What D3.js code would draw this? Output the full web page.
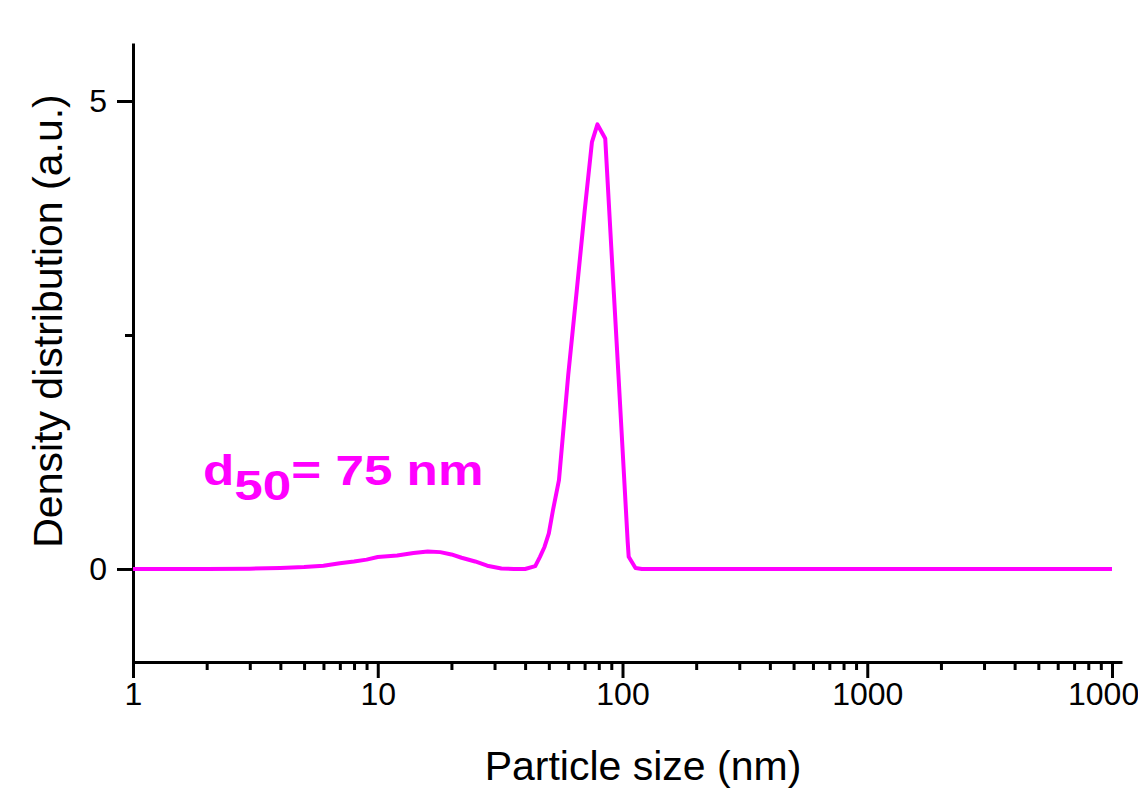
<!DOCTYPE html>
<html>
<head>
<meta charset="utf-8">
<script src="https://cdn.jsdelivr.net/npm/d3@7"></script>
<style>
  body { margin: 0; background: #fff; }
  svg { display: block; }
</style>
</head>
<body>
<div id="chart"></div>
<script>
// particle size distribution
const sizes = [1, 2, 3, 4, 5, 6, 7, 8, 9, 10, 12, 14, 16, 18, 20, 22, 25, 28, 32, 36, 40,
  44, 46, 48, 50, 52, 55, 60, 65, 70, 75, 79, 85, 90, 95, 100, 105, 106, 113, 120,
  200, 500, 1000, 2000, 5000, 10000];
const density = [0, 0, 0.003, 0.01, 0.02, 0.035, 0.062, 0.08, 0.1, 0.128, 0.145, 0.17, 0.187, 0.18, 0.155, 0.12, 0.08, 0.035, 0.005, 0, 0,
  0.03, 0.13, 0.235, 0.38, 0.63, 0.95, 2.07, 2.97, 3.82, 4.56, 4.75, 4.6, 3.43, 2.34, 1.29, 0.29, 0.13, 0.01, 0,
  0, 0, 0, 0, 0, 0];

const xMajor = [1, 10, 100, 1000, 10000];
const xMinor = [1, 10, 100, 1000].flatMap(d => d3.range(2, 10).map(k => k * d));
const yMajor = [0, 5];
const yMinor = [2.5];

const width = 1138; // the original crops the last tick label
const height = 789;
const margin = { top: 43, right: 16, bottom: 127, left: 133 };
const color = '#ff00ff';
const font = 'Arial, "Liberation Sans", sans-serif';
const majorTick = 16;
const minorTick = 8;
const tickFont = 32;

const svg = d3.select('#chart')
  .append('svg')
  .attr('width', width)
  .attr('height', height)
  .style('font-family', font);

// axis line runs a little past 10000, like the original
const x = d3.scaleLog()
  .domain([1, Math.pow(10, 4 + 10 / 245)])
  .range([margin.left, width - margin.right]);
const y = d3.scaleLinear()
  .domain([-0.994, 5.62])
  .range([height - margin.bottom, margin.top]);

const axisStyle = g => {
  g.attr('font-size', tickFont).attr('font-family', font);
  g.select('.domain').attr('stroke-width', 3).attr('stroke', '#000');
  g.selectAll('.tick line').attr('stroke-width', 3).attr('stroke', '#000');
  g.selectAll('.tick text').attr('fill', '#000');
};

// x axis: majors with labels, minors without
svg.append('g')
  .attr('transform', `translate(0, ${y.range()[0]})`)
  .call(d3.axisBottom(x).tickValues(xMinor).tickSize(minorTick).tickSizeOuter(0).tickFormat(''))
  .call(axisStyle);
svg.append('g')
  .attr('transform', `translate(0, ${y.range()[0]})`)
  .call(d3.axisBottom(x).tickValues(xMajor).tickSize(majorTick).tickSizeOuter(0)
    .tickFormat(d3.format('d')).tickPadding(4))
  .call(axisStyle)
  .call(g => g.select('.domain').remove());

// y axis
svg.append('g')
  .attr('transform', `translate(${margin.left}, 0)`)
  .call(d3.axisLeft(y).tickValues(yMinor).tickSize(minorTick).tickSizeOuter(0).tickFormat(''))
  .call(axisStyle);
svg.append('g')
  .attr('transform', `translate(${margin.left}, 0)`)
  .call(d3.axisLeft(y).tickValues(yMajor).tickSize(majorTick).tickSizeOuter(0)
    .tickFormat(d3.format('d')).tickPadding(10))
  .call(axisStyle)
  .call(g => g.select('.domain').remove());

// curve
const line = d3.line()
  .x((d, i) => x(sizes[i]))
  .y(d => y(d));
svg.append('path')
  .datum(density)
  .attr('fill', 'none')
  .attr('stroke', color)
  .attr('stroke-width', 4)
  .attr('stroke-linejoin', 'round')
  .attr('d', line);

// titles
svg.append('text')
  .attr('x', 643)
  .attr('y', 780)
  .attr('text-anchor', 'middle')
  .style('font-size', '41px')
  .text('Particle size (nm)');
svg.append('text')
  .attr('transform', 'translate(62, 321) rotate(-90)')
  .attr('text-anchor', 'middle')
  .style('font-size', '41px')
  .text('Density distribution (a.u.)');

// d50 annotation
const note = svg.append('text')
  .attr('transform', 'translate(203, 485) scale(1.22, 1)')
  .attr('fill', color)
  .style('font-size', '42px')
  .style('font-weight', 'bold');
note.append('tspan').text('d');
note.append('tspan').attr('dy', 15).text('50');
note.append('tspan').attr('dy', -15).text('= 75 nm');
</script>
</body>
</html>
